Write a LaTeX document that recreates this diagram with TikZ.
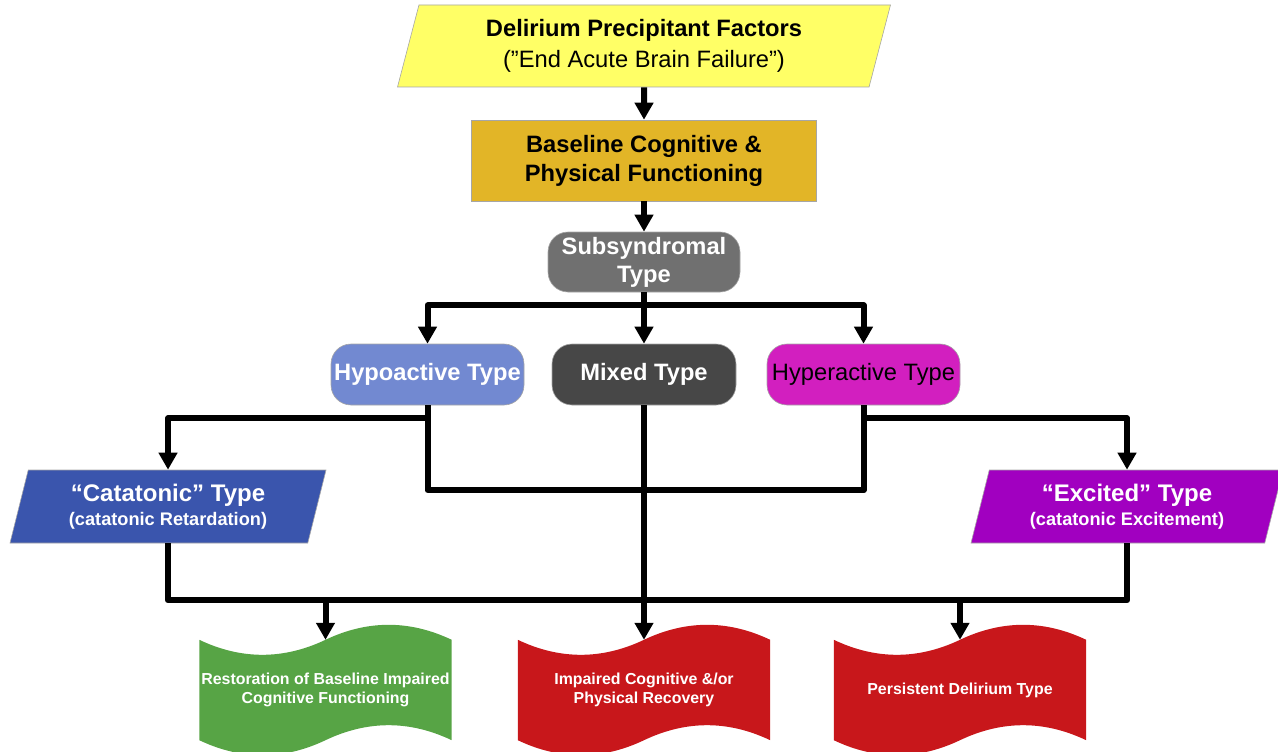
\documentclass[tikz,border=0pt]{standalone}
\usepackage{fontspec}
\setmainfont{Liberation Sans}
\usetikzlibrary{arrows.meta,calc,shapes.geometric}
\definecolor{FactorClr}{RGB}{255,255,102}
\definecolor{BaseClr}{RGB}{226,181,39}
\definecolor{SubClr}{RGB}{112,112,112}
\definecolor{HypoClr}{RGB}{114,137,209}
\definecolor{MixedClr}{RGB}{71,71,71}
\definecolor{HyperClr}{RGB}{210,31,191}
\definecolor{CataClr}{RGB}{58,85,173}
\definecolor{ExcitClr}{RGB}{161,0,192}
\definecolor{GoodClr}{RGB}{87,164,69}
\definecolor{BadClr}{RGB}{200,23,27}
\pgfdeclarelayer{background}
\pgfsetlayers{background,main}
\newcommand\WaveFill[2]{%
  \fill[#2] (#1.north west) .. controls +(42,20) and +(-42,20) .. (#1.north)
    .. controls +(42,-20) and +(-42,-20) .. (#1.north east) -- (#1.south east)
    .. controls +(-42,-20) and +(42,-20) .. (#1.south)
    .. controls +(-42,20) and +(42,20) .. (#1.south west) -- cycle;}

\begin{document}
\begin{tikzpicture}[x=1pt,y=-1pt,
  box/.style={draw=gray!70,line width=0.6pt,align=center,inner sep=0pt},
  pill/.style={box,rounded corners=20pt,minimum height=61pt,text=white,
    font=\fontsize{23.7}{28}\selectfont\bfseries},
  slant/.style={box,shape=trapezium,trapezium left angle=68,
    trapezium right angle=112,trapezium stretches body},
  wave/.style={minimum width=252pt,minimum height=100pt,inner sep=0pt,
    text=white,align=center,font=\fontsize{15.9}{19}\selectfont\bfseries},
  line/.style={line width=6pt,line join=round},
  arr/.style={line,-{Triangle[width=18pt,length=17pt]}}]
\useasboundingbox (0,0) rectangle (1278,752);

\node[slant,fill=FactorClr,minimum width=493pt,minimum height=82pt,
  font=\fontsize{23.7}{31}\selectfont] (factors) at (644,46)
  {{\bfseries Delirium Precipitant Factors}\\(”End Acute Brain Failure”)};
\node[box,fill=BaseClr,minimum width=345pt,minimum height=81pt,
  font=\fontsize{23.7}{29}\selectfont\bfseries] (baseline) at (644,160.5)
  {Baseline Cognitive \&\\Physical Functioning};
\node[pill,fill=SubClr,minimum width=192pt,minimum height=60pt] (subsyn) at (644,262) {Subsyndromal\\Type};

\node[pill,fill=HypoClr,minimum width=193pt] (hypo) at (427.5,374.5) {Hypoactive Type};
\node[pill,fill=MixedClr,minimum width=184pt] (mixed) at (644,374.5) {Mixed Type};
\node[pill,fill=HyperClr,minimum width=193pt,text=black,
  font=\fontsize{23.7}{28}\selectfont] (hyper) at (863.5,374.5) {Hyperactive Type};

\node[slant,fill=CataClr,text=white,minimum width=316pt,minimum height=73pt,
  font=\fontsize{18.2}{24}\selectfont\bfseries] (cata) at (168,506.5)
  {{\fontsize{24}{24}\selectfont “Catatonic” Type}\\(catatonic Retardation)};
\node[slant,fill=ExcitClr,text=white,minimum width=312pt,minimum height=73pt,
  font=\fontsize{18.2}{24}\selectfont\bfseries] (excit) at (1127,506.5)
  {{\fontsize{24}{24}\selectfont “Excited” Type}\\(catatonic Excitement)};

\node[wave] (restore) at (325.5,690) {Restoration of Baseline Impaired\\Cognitive Functioning};
\node[wave] (impaired) at (644,690) {Impaired Cognitive \&/or\\Physical Recovery};
\node[wave] (persist) at (960,690) {Persistent Delirium Type};
\begin{pgfonlayer}{background}
\WaveFill{restore}{GoodClr}
\WaveFill{impaired}{BadClr}
\WaveFill{persist}{BadClr}
\end{pgfonlayer}

\draw[arr] (factors) -- (baseline);
\draw[arr] (baseline) -- (subsyn);
\draw[arr] (subsyn) -- (mixed);
\draw[arr] (subsyn.south) -- ++(0,13) -| (hypo.north);
\draw[arr] (subsyn.south) -- ++(0,13) -| (hyper.north);

\draw[arr] (hypo.south) -- ++(0,13) -| (cata.north);
\draw[line] (hypo.south) -- ++(0,85) -| (hyper.south);
\draw[arr] (hyper.south) -- ++(0,13) -| (excit.north);

\coordinate (bus) at ($(cata.south)+(0,57)$);
\draw[line] (cata.south) -- (bus) -| (excit.south);
\draw[arr] (mixed) -- (impaired.north);
\draw[arr] (restore.north |- bus) -- (restore.north);
\draw[arr] (persist.north |- bus) -- (persist.north);
\end{tikzpicture}
\end{document}
